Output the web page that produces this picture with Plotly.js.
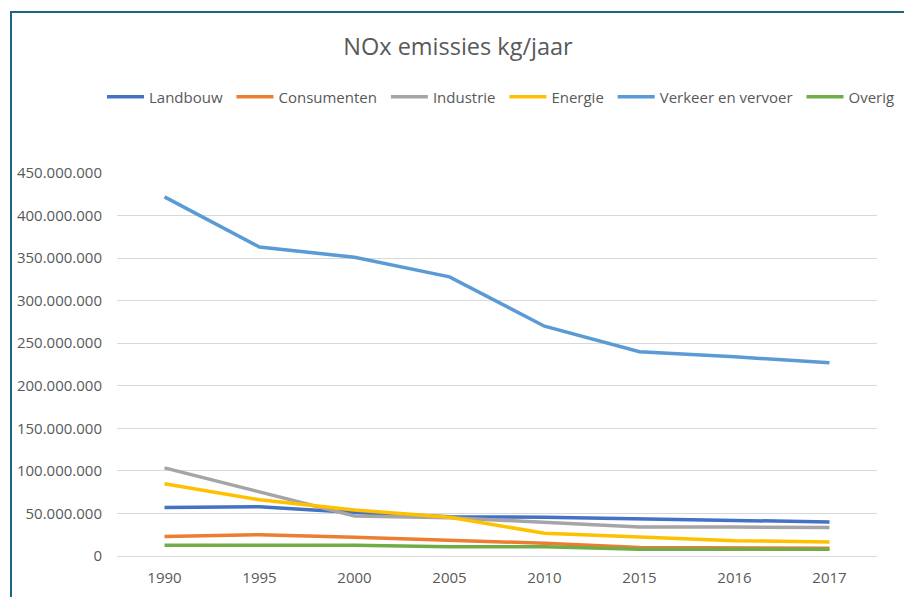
<!DOCTYPE html>
<html>
<head>
<meta charset="utf-8">
<script src="https://cdn.plot.ly/plotly-3.0.1.min.js"></script>
<style>
  html, body { margin: 0; padding: 0; overflow: hidden; background: #fff; }
  #chart { width: 1000px; height: 597px; }
</style>
</head>
<body>
<div id="chart"></div>
<script>
// ---- data ----
const years = ['1990', '1995', '2000', '2005', '2010', '2015', '2016', '2017'];
const seriesNames = ['Landbouw', 'Consumenten', 'Industrie', 'Energie', 'Verkeer en vervoer', 'Overig'];
const landbouw    = [57e6, 58e6, 51e6, 46e6, 45.5e6, 44e6, 42e6, 40e6];
const consumenten = [23e6, 25e6, 22e6, 18.5e6, 15e6, 10e6, 10e6, 9e6];
const industrie   = [103.5e6, 75e6, 47e6, 45e6, 39e6, 34e6, 34e6, 33.5e6];
const energie     = [85e6, 66e6, 54e6, 45.5e6, 26.7e6, 22e6, 18e6, 16.5e6];
const verkeer     = [422e6, 363e6, 351e6, 328e6, 270e6, 240e6, 234e6, 227e6];
const overig      = [12.5e6, 12.5e6, 12.5e6, 11e6, 11e6, 8e6, 8e6, 8e6];
const yTicks = [0, 50e6, 100e6, 150e6, 200e6, 250e6, 300e6, 350e6, 400e6, 450e6];

// ---- styling ----
const colors = ['#4472C4', '#ED7D31', '#A5A5A5', '#FFC000', '#5B9BD5', '#70AD47'];
const values = [landbouw, consumenten, industrie, energie, verkeer, overig];
const pad = '\u00a0';
const FONT = 'Open Sans, Noto Sans, Liberation Sans, sans-serif';
const TXT = '#595959';

const traces = values.map((v, i) => ({
  type: 'scatter',
  mode: 'lines',
  x: years,
  y: v,
  name: seriesNames[i] + pad,
  line: { color: colors[i], width: 3.5 },
  hoverinfo: 'x+y+name'
}));

const W = 1000, H = 597;
const L = 117, R = 877, T = 173, B = 556;
const pw = R - L, ph = B - T;
const px = xp => (xp - L) / pw;       // pixel x -> paper
const py = yp => (B - yp) / ph;       // pixel y -> paper

const layout = {
  width: W, height: H,
  margin: { l: L, r: W - R, t: T, b: H - B, autoexpand: false },
  paper_bgcolor: '#ffffff',
  plot_bgcolor: '#ffffff',
  separators: ',.',
  font: { family: FONT, color: TXT, size: 15 },
  title: {
    text: 'NOx emissies kg/jaar',
    font: { family: FONT, size: 23.5, color: TXT },
    x: 458 / W, xanchor: 'center',
    y: 1 - 47 / H, yanchor: 'middle'
  },
  showlegend: true,
  legend: {
    orientation: 'h',
    x: px(102), xanchor: 'left',
    y: py(97), yanchor: 'middle',
    font: { family: FONT, size: 15, color: TXT },
    itemwidth: 37,
    bgcolor: 'rgba(0,0,0,0)',
    traceorder: 'normal'
  },
  xaxis: {
    type: 'category',
    range: [-0.5, years.length - 0.5],
    showgrid: false,
    showline: true, linecolor: '#d9d9d9', linewidth: 1,
    ticks: '', ticklabelstandoff: 8,
    tickfont: { family: FONT, size: 15, color: TXT },
    zeroline: false, fixedrange: true
  },
  yaxis: {
    range: [0, 450e6],
    tickvals: yTicks,
    tickformat: ',d',
    showgrid: true, gridcolor: '#d9d9d9', gridwidth: 1,
    showline: false, zeroline: false,
    ticks: '', ticklabelstandoff: 14,
    tickfont: { family: FONT, size: 15, color: TXT },
    fixedrange: true
  },
  shapes: [
    { type: 'line', xref: 'paper', yref: 'paper', x0: px(11), x1: px(11), y0: py(12), y1: py(620),
      line: { color: '#1d6584', width: 2 } },
    { type: 'line', xref: 'paper', yref: 'paper', x0: px(10), x1: px(1000), y0: py(12), y1: py(12),
      line: { color: '#1d6584', width: 2 } }
  ]
};

Plotly.newPlot('chart', traces, layout, { displayModeBar: false, staticPlot: false });
</script>
</body>
</html>
